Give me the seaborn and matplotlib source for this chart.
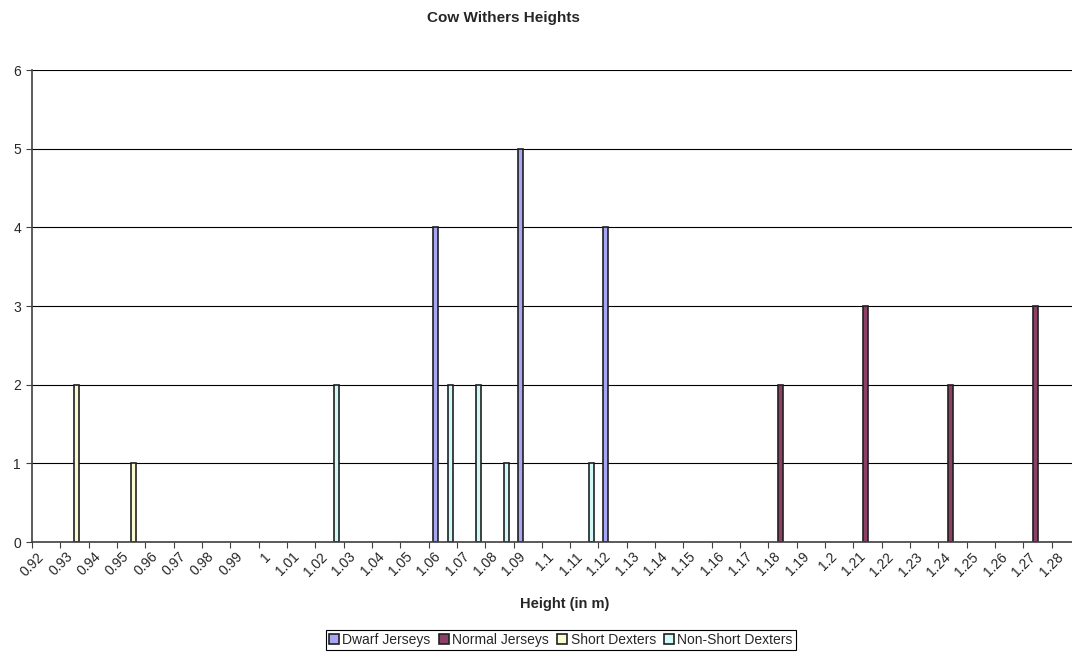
import matplotlib
matplotlib.use("Agg")
import matplotlib.pyplot as plt
import pandas as pd
import seaborn as sns
from matplotlib.ticker import FixedLocator

# ── data ──────────────────────────────────────────────────────────────────────
heights = ["0.92", "0.93", "0.94", "0.95", "0.96", "0.97", "0.98", "0.99", "1",
           "1.01", "1.02", "1.03", "1.04", "1.05", "1.06", "1.07", "1.08", "1.09",
           "1.1", "1.11", "1.12", "1.13", "1.14", "1.15", "1.16", "1.17", "1.18",
           "1.19", "1.2", "1.21", "1.22", "1.23", "1.24", "1.25", "1.26", "1.27",
           "1.28"]
series_names = ["Dwarf Jerseys", "Normal Jerseys", "Short Dexters", "Non-Short Dexters"]

dwarf_h    = ["1.06", "1.09", "1.12"]
dwarf_n    = [4, 5, 4]
normal_h   = ["1.18", "1.21", "1.24", "1.27"]
normal_n   = [2, 3, 2, 3]
short_h    = ["0.93", "0.95"]
short_n    = [2, 1]
nonshort_h = ["1.02", "1.06", "1.07", "1.08", "1.11"]
nonshort_n = [2, 2, 2, 1, 1]

colors = ["#9999FF", "#993366", "#FFFFCC", "#CCFFFF"]

rows = []
for name, hs, ns in zip(series_names,
                        [dwarf_h, normal_h, short_h, nonshort_h],
                        [dwarf_n, normal_n, short_n, nonshort_n]):
    for h, n in zip(hs, ns):
        rows.append({"Height": h, "Breed": name, "Count": n})
df = pd.DataFrame(rows)

# ── plot ──────────────────────────────────────────────────────────────────────
sns.set_style("white")
plt.rcParams["font.family"] = ["Liberation Sans", "DejaVu Sans"]

fig = plt.figure(figsize=(10.72, 6.55), dpi=100)
ax = fig.add_axes([32 / 1072, 1 - 542 / 655, 1048 / 1072, 472 / 655])

sns.barplot(data=df, x="Height", y="Count", hue="Breed", order=heights,
            hue_order=series_names, palette=colors, width=0.706, dodge=True,
            edgecolor="#202020", linewidth=1.2, errorbar=None, ax=ax)

ax.set_ylim(0, 6)
ax.set_yticks(range(0, 7))
ax.yaxis.grid(True, color="black", linewidth=0.8)
ax.set_axisbelow(True)

for side in ["top", "right"]:
    ax.spines[side].set_visible(False)
for side in ["left", "bottom"]:
    ax.spines[side].set_color("#404040")
    ax.spines[side].set_linewidth(1.2)

# labels sit a little left of the category centre, Excel-style
ax.set_xticks([i - 0.32 for i in range(len(heights))])
ax.set_xticklabels(heights, rotation=45, ha="right", rotation_mode="anchor",
                   fontsize=10)
ax.xaxis.set_minor_locator(FixedLocator([i - 0.5 for i in range(len(heights) + 1)]))
ax.tick_params(axis="x", which="major", length=0, pad=5.5)
ax.tick_params(axis="x", which="minor", length=4, width=0.8, color="#404040",
               direction="out", bottom=True)
ax.tick_params(axis="y", length=4, width=0.8, color="#404040", direction="out",
               left=True, labelsize=10, pad=4)
ax.set_xlim(-0.5, len(heights) - 0.5)

ax.set_xlabel("")
ax.set_ylabel("")
fig.text(565 / 1072, 1 - 604 / 655, "Height (in m)", ha="center", va="center",
         fontsize=10.5, fontweight="bold")
fig.text(503 / 1072, 1 - 18 / 655, "Cow Withers Heights", ha="center",
         va="center", fontsize=11, fontweight="bold")

handles, labels = ax.get_legend_handles_labels()
ax.legend(handles, labels, ncol=4, loc="center",
          bbox_to_anchor=(561 / 1072, 1 - 640 / 655),
          bbox_transform=fig.transFigure, frameon=True, fancybox=False,
          edgecolor="black", framealpha=1, fontsize=10, handlelength=0.7,
          handleheight=0.7, handletextpad=0.25, columnspacing=0.6,
          borderpad=0.25, borderaxespad=0)
ax.get_legend().get_frame().set_linewidth(0.8)

fig.savefig("out.png", dpi=100)
